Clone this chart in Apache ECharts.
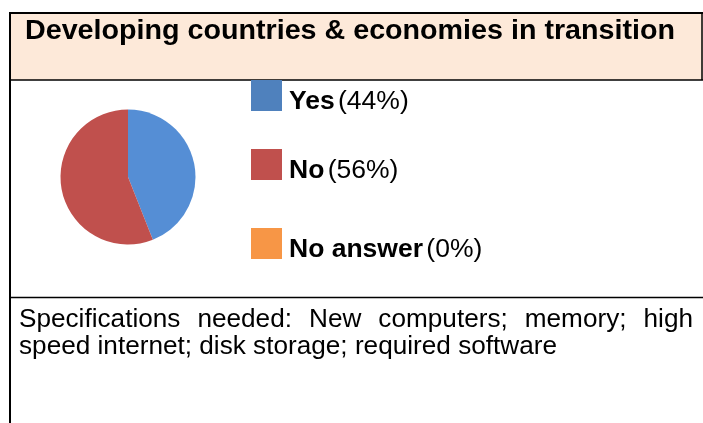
<!DOCTYPE html>
<html><head><meta charset="utf-8">
<script src="https://cdn.jsdelivr.net/npm/echarts@6/dist/echarts.min.js"></script>
<style>html,body{margin:0;padding:0;background:#fff}#c{width:703px;height:423px}</style>
</head><body><div id="c"></div>
<script>
const titleText = 'Developing countries & economies in transition';
const categories = ['Yes', 'No', 'No answer'];
const values = [44, 56, 0];
const percentLabels = ['(44%)', '(56%)', '(0%)'];
const noteLine1 = ['Specifications', 'needed:', 'New', 'computers;', 'memory;', 'high'];
const noteLine2 = 'speed internet; disk storage; required software';

const pieColors = ['#558ED5', '#C0504D', '#F79646'];
const legendColors = ['#4F81BD', '#C0504D', '#F79646'];
const legendTops = [80, 149, 228];
const FONT = '"Liberation Sans", Arial, sans-serif';

const chart = echarts.init(document.getElementById('c'), null, {renderer: 'canvas'});
const ctx = document.createElement('canvas').getContext('2d');

// title, fitted to the span it takes in the source
const titleFont = 'bold 28.5px ' + FONT;
ctx.font = titleFont;
const titleScale = 650 / ctx.measureText(titleText).width;

// note text: second line spans 19..557, first line justified 19..693
const noteSize = 25.5;
const noteFont = noteSize + 'px ' + FONT;
ctx.font = noteFont;
const noteScale = 538 / ctx.measureText(noteLine2).width;
const x0 = 19, x1 = 693;
const widths = noteLine1.map(w => ctx.measureText(w).width * noteScale);
const total = widths.reduce((a, b) => a + b, 0);
const gap = (x1 - x0 - total) / (noteLine1.length - 1);
const noteGraphics = [];
let cx = x0;
noteLine1.forEach((w, i) => {
  noteGraphics.push({type: 'text', x: cx, y: 307, scaleX: noteScale,
    style: {text: w, x: 0, y: 0, font: noteFont, fill: '#000', verticalAlign: 'top'}});
  cx += widths[i] + gap;
});
noteGraphics.push({type: 'text', x: x0, y: 334, scaleX: noteScale,
  style: {text: noteLine2, x: 0, y: 0, font: noteFont, fill: '#000', verticalAlign: 'top'}});

const legends = categories.map((c, i) => ({
  orient: 'vertical', left: 251, top: legendTops[i],
  itemWidth: 31, itemHeight: 31, padding: 0,
  selectedMode: false, icon: 'rect',
  data: [{name: c, itemStyle: {color: legendColors[i]}}],
  formatter: name => '{b|' + name + '} {r|' + percentLabels[categories.indexOf(name)] + '}',
  textStyle: {
    padding: [12, 0, 0, 2],
    rich: {
      b: {fontFamily: FONT, fontWeight: 'bold', fontSize: 26.5, color: '#000'},
      r: {fontFamily: FONT, fontSize: 26.5, color: '#000'}
    }
  }
}));

chart.setOption({
  animation: false,
  legend: legends,
  graphic: [
    {type: 'rect', z: -10, shape: {x: 10, y: 13, width: 693, height: 67}, style: {fill: '#FDE9D9'}},
    {type: 'line', shape: {x1: 9, y1: 13, x2: 703, y2: 13}, style: {stroke: '#000', lineWidth: 2}},
    {type: 'line', shape: {x1: 10, y1: 12, x2: 10, y2: 423}, style: {stroke: '#000', lineWidth: 2}},
    {type: 'line', shape: {x1: 10, y1: 80, x2: 703, y2: 80}, style: {stroke: '#000', lineWidth: 1.5}},
    {type: 'line', shape: {x1: 702, y1: 12, x2: 702, y2: 80}, style: {stroke: '#000', lineWidth: 1.5}},
    {type: 'line', shape: {x1: 10, y1: 297.5, x2: 703, y2: 297.5}, style: {stroke: '#000', lineWidth: 1.5}},
    {type: 'text', x: 25, y: 17, scaleX: titleScale,
      style: {text: titleText, x: 0, y: 0, font: titleFont, fill: '#000', verticalAlign: 'top'}},
    ...noteGraphics
  ],
  series: [{
    type: 'pie',
    center: [128, 177], radius: 67.5,
    startAngle: 90, clockwise: true,
    label: {show: false}, labelLine: {show: false},
    itemStyle: {borderWidth: 0},
    emphasis: {disabled: true},
    data: categories.map((c, i) => ({name: c, value: values[i], itemStyle: {color: pieColors[i]}}))
  }]
});
</script></body></html>
